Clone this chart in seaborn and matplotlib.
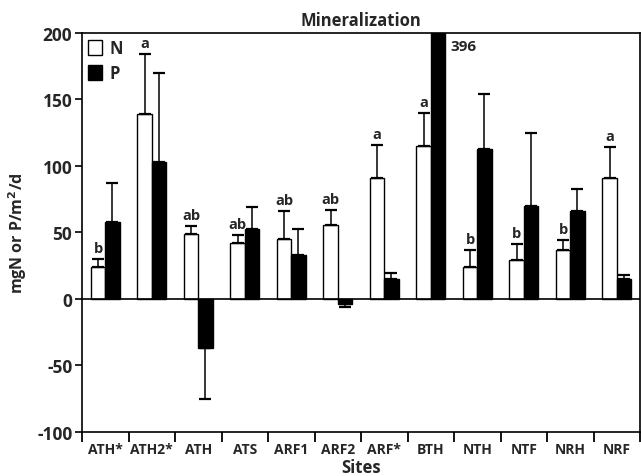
import matplotlib
matplotlib.use("Agg")
import matplotlib.pyplot as plt
import seaborn as sns
import pandas as pd
import numpy as np
from matplotlib.ticker import FixedLocator

sites = ["ATH*", "ATH2*", "ATH", "ATS", "ARF1", "ARF2", "ARF*", "BTH", "NTH", "NTF", "NRH", "NRF"]
n_mean = [24, 139, 49, 42, 45, 56, 91, 115, 24, 29, 37, 91]
n_err = [6, 45, 6, 6, 21, 11, 25, 25, 13, 12, 7, 23]
p_mean = [58, 103, -37, 53, 33, -4, 15, 396, 113, 70, 66, 15]
p_err = [29, 67, 38, 16, 20, 2, 4.5, 0, 41, 55, 17, 3]
letters = ["b", "a", "ab", "ab", "ab", "ab", "a", "a", "b", "b", "b", "a"]
y_ticks = [-100, -50, 0, 50, 100, 150, 200]

sns.set_theme(style="white")
plt.rcParams["font.family"] = ["Open Sans", "DejaVu Sans"]
plt.rcParams["font.weight"] = "bold"
plt.rcParams["mathtext.default"] = "bf"

df = pd.DataFrame({
    "Site": sites * 2,
    "Nutrient": ["N"] * len(sites) + ["P"] * len(sites),
    "Value": n_mean + p_mean,
})

fig = plt.figure(figsize=(6.41, 4.77), dpi=100)
ax = fig.add_axes([82 / 641, 1 - 433 / 477, (640 - 82) / 641, (433 - 34) / 477])

sns.barplot(data=df, x="Site", y="Value", hue="Nutrient", order=sites,
            palette={"N": "white", "P": "black"}, edgecolor="black",
            linewidth=1.0, width=0.62, errorbar=None, ax=ax, legend=True)

means = {"N": (n_mean, n_err), "P": (p_mean, p_err)}
for cont, key in zip(ax.containers, ["N", "P"]):
    vals, errs = means[key]
    for bar, v, e in zip(cont, vals, errs):
        xc = bar.get_x() + bar.get_width() / 2
        if e <= 0:
            continue
        if v >= 0:
            yerr = [[0], [e]]
        else:
            yerr = [[e], [0]]
        ax.errorbar([xc], [v], yerr=yerr, fmt="none", ecolor="black",
                    elinewidth=1.1, capsize=4, capthick=1.6, zorder=3)
    if key == "N":
        for bar, v, e, lab in zip(cont, vals, errs, letters):
            xc = bar.get_x() + bar.get_width() / 2
            ax.annotate(lab, (xc, v + e), xytext=(0, 3), textcoords="offset points",
                        ha="center", va="bottom", fontsize=10.5, fontweight="bold")
    else:
        bar = cont[7]
        ax.annotate(str(p_mean[7]), (bar.get_x() + bar.get_width(), 190),
                    xytext=(4, 0), textcoords="offset points",
                    ha="left", va="center", fontsize=11, fontweight="bold")

ax.axhline(0, color="black", lw=1.2, zorder=4)
ax.set_ylim(-100, 200)
ax.set_xlim(-0.5, len(sites) - 0.5)
ax.set_yticks(y_ticks)
ax.set_yticklabels([str(t) for t in y_ticks], fontsize=12.5, fontweight="bold")
ax.set_xticks(range(len(sites)))
ax.set_xticklabels(sites, fontsize=10, fontweight="bold")
ax.tick_params(axis="x", which="major", length=0, pad=7)
ax.xaxis.set_minor_locator(FixedLocator(np.arange(-0.5, len(sites), 1.0)))
ax.tick_params(axis="x", which="minor", bottom=True, length=7, width=1.3, color="black", direction="out")
ax.tick_params(axis="y", which="major", left=True, length=5, width=1.2, color="black", direction="out", pad=2)

for s in ax.spines.values():
    s.set_color("black")
    s.set_linewidth(1.2)

ax.set_title("Mineralization", fontsize=12, fontweight="bold", pad=6)
ax.set_xlabel("Sites", fontsize=12, fontweight="bold", labelpad=2)
ax.set_ylabel("mgN or P/m$^2$/d", fontsize=11.5, fontweight="bold", labelpad=6)

handles, labels = ax.get_legend_handles_labels()
leg = ax.legend(handles, labels, loc="upper left", frameon=False, handlelength=0.85,
                handleheight=1.0, handletextpad=0.45, labelspacing=0.45,
                borderpad=0.2, borderaxespad=0.15, prop={"weight": "bold", "size": 12})

fig.savefig("out.png", dpi=100)
